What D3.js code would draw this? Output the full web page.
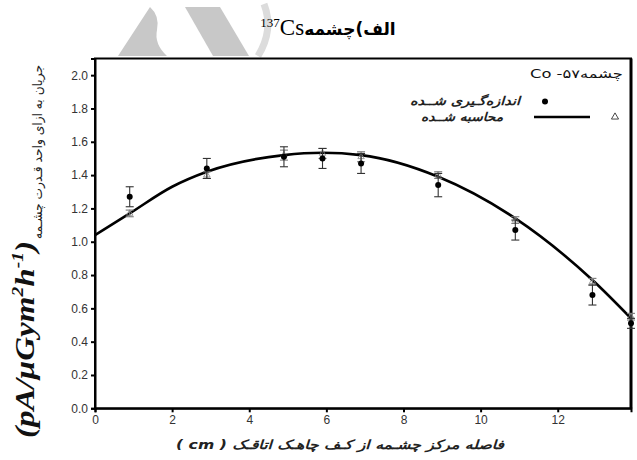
<!DOCTYPE html>
<html><head><meta charset="utf-8">
<script src="https://cdn.jsdelivr.net/npm/d3@7"></script>
<style>body{margin:0;background:#fff}svg{display:block}</style>
</head><body>
<script>
// ---- data ----
const xTicks = [0, 2, 4, 6, 8, 10, 12];
const yTicks = [0, 0.2, 0.4, 0.6, 0.8, 1.0, 1.2, 1.4, 1.6, 1.8, 2.0];
const distances = [0.9, 2.9, 4.9, 5.9, 6.9, 8.9, 10.9, 12.9, 13.9];
const measured = [1.27, 1.44, 1.51, 1.50, 1.47, 1.34, 1.07, 0.68, 0.51];
const measuredErr = [0.06, 0.06, 0.06, 0.06, 0.06, 0.07, 0.06, 0.06, 0.03];
const calculated = [1.17, 1.40, 1.52, 1.53, 1.51, 1.40, 1.13, 0.76, 0.55];
const calculatedErr = [0.02, 0.02, 0.03, 0.03, 0.03, 0.02, 0.02, 0.02, 0.02];
const curveX = [0, 0.9, 2, 2.9, 4.9, 5.9, 6.9, 8.9, 10.9, 12.9, 13.9];
const curveY = [1.04, 1.17, 1.33, 1.42, 1.52, 1.534, 1.52, 1.39, 1.14, 0.77, 0.54];

const W = 637, H = 460;
const svg = d3.select("body").append("svg").attr("width", W).attr("height", H);

// watermark shapes
const wm = svg.append("g");
wm.append("path").attr("d", "M118,56 L150,7 Q160,16 157,30 Q154,44 167,56 Z").attr("fill", "#c8c8c8");
wm.append("path").attr("d", "M185,7 L220,7 L249,56 L213,56 Z").attr("fill", "#c8c8c8");
wm.append("path").attr("d", "M264,4 Q274,30 258,56").attr("fill", "none").attr("stroke", "#dcdcdc").attr("stroke-width", 7);

const x = d3.scaleLinear().domain([0, 13.9]).range([95, 631]);
const y = d3.scaleLinear().domain([0, 2.1]).range([408.3, 58.5]);

// frame
svg.append("rect").attr("x", x(0)).attr("y", y(2.1)).attr("width", x(13.9) - x(0)).attr("height", y(0) - y(2.1))
  .attr("fill", "none").attr("stroke", "#000").attr("stroke-width", 2);
svg.append("line").attr("x1", x(13.9)).attr("x2", x(13.9)).attr("y1", y(2.1)).attr("y2", y(0))
  .attr("stroke", "#000").attr("stroke-width", 3);

const xAxis = svg.append("g").attr("transform", `translate(0,${y(0)})`)
  .call(d3.axisBottom(x).tickValues(xTicks).tickSize(4).tickPadding(3).tickFormat(d3.format("d")));
const yAxis = svg.append("g").attr("transform", `translate(${x(0)},0)`)
  .call(d3.axisLeft(y).tickValues(yTicks).tickSize(4).tickPadding(3).tickFormat(d3.format(".1f")));
[xAxis, yAxis].forEach(a => {
  a.select(".domain").attr("stroke", "#000").attr("stroke-width", 2);
  a.selectAll(".tick line").attr("stroke", "#000").attr("stroke-width", 2);
  a.selectAll(".tick text").attr("font-family", "Liberation Sans, Arial, sans-serif").attr("font-size", 12).attr("fill", "#333");
});

// curve
const line = d3.line().x(d => x(d[0])).y(d => y(d[1])).curve(d3.curveMonotoneX);
svg.append("path").datum(curveX.map((v, i) => [v, curveY[i]])).attr("d", line)
  .attr("fill", "none").attr("stroke", "#000").attr("stroke-width", 2.6);

function errBars(vals, errs, color, cap) {
  const g = svg.append("g").attr("stroke", color).attr("stroke-width", 1.1);
  distances.forEach((d, i) => {
    const cx = x(d), t = y(vals[i] + errs[i]), b = y(vals[i] - errs[i]);
    g.append("line").attr("x1", cx).attr("x2", cx).attr("y1", t).attr("y2", b);
    g.append("line").attr("x1", cx - cap).attr("x2", cx + cap).attr("y1", t).attr("y2", t);
    g.append("line").attr("x1", cx - cap).attr("x2", cx + cap).attr("y1", b).attr("y2", b);
  });
}
errBars(calculated, calculatedErr, "#777", 4);
svg.append("g").selectAll("path").data(distances).join("path")
  .attr("d", d3.symbol(d3.symbolTriangle, 18))
  .attr("transform", (d, i) => `translate(${x(d)},${y(calculated[i])})`)
  .attr("fill", "none").attr("stroke", "#888").attr("stroke-width", 0.8);
errBars(measured, measuredErr, "#333", 4);
svg.append("g").selectAll("circle").data(distances).join("circle")
  .attr("cx", d => x(d)).attr("cy", (d, i) => y(measured[i])).attr("r", 3).attr("fill", "#000");

// legend
const ar = "DejaVu Sans, sans-serif";
svg.append("text").attr("x", 623).attr("y", 78).attr("text-anchor", "end")
  .attr("font-family", ar).attr("font-size", 12).attr("fill", "#111")
  .attr("textLength", 93).attr("lengthAdjust", "spacingAndGlyphs").text("Co -۵۷چشمه");
svg.append("circle").attr("cx", 545).attr("cy", 101.5).attr("r", 3).attr("fill", "#000");
svg.append("text").attr("x", 410).attr("y", 105)
  .attr("font-family", ar).attr("font-size", 12).attr("font-style", "italic").attr("font-weight", "bold").attr("fill", "#222")
  .attr("textLength", 110).attr("lengthAdjust", "spacingAndGlyphs")
  .text("اندازه‌گـیری شــده");
svg.append("line").attr("x1", 534).attr("x2", 590).attr("y1", 117).attr("y2", 117).attr("stroke", "#000").attr("stroke-width", 2.6);
svg.append("path").attr("d", d3.symbol(d3.symbolTriangle, 22)).attr("transform", "translate(615,117)")
  .attr("fill", "none").attr("stroke", "#333").attr("stroke-width", 0.9);
svg.append("text").attr("x", 421).attr("y", 121)
  .attr("font-family", ar).attr("font-size", 12).attr("font-style", "italic").attr("font-weight", "bold").attr("fill", "#222")
  .attr("textLength", 82).attr("lengthAdjust", "spacingAndGlyphs")
  .text("محاسبه شــده");

// x label (right-to-left)
svg.append("text").attr("x", 340).attr("y", 449).attr("text-anchor", "middle").attr("direction", "rtl")
  .attr("font-family", ar).attr("font-size", 12.5).attr("font-style", "italic").attr("font-weight", "bold").attr("fill", "#222")
  .attr("textLength", 328).attr("lengthAdjust", "spacingAndGlyphs")
  .text("فاصله مرکز چشـمه از کـف چاهـک اتاقـک ( cm )");

// y label
const yl = svg.append("g").attr("transform", "translate(34,438) rotate(-90)");
const lat = yl.append("text").attr("x", 0).attr("y", 0)
  .attr("font-family", "Liberation Serif, Times New Roman, serif").attr("font-size", 27)
  .attr("font-style", "italic").attr("font-weight", "bold").attr("fill", "#111")
  .attr("textLength", 197).attr("lengthAdjust", "spacingAndGlyphs");
lat.append("tspan").text("(pA/μGym");
lat.append("tspan").attr("dy", -11).attr("font-size", 16).text("2");
lat.append("tspan").attr("dy", 11).text("h");
lat.append("tspan").attr("dy", -11).attr("font-size", 16).text("-1");
lat.append("tspan").attr("dy", 11).text(")");
yl.append("text").attr("x", 199).attr("y", 8)
  .attr("font-family", ar).attr("font-size", 13).attr("fill", "#222")
  .attr("textLength", 174).attr("lengthAdjust", "spacingAndGlyphs")
  .text("جریان به ازای واحد قـدرت چشـمه");

// title
const tg = svg.append("g");
const tCs = tg.append("text").attr("y", 35).attr("font-family", "Liberation Serif, Times New Roman, serif").attr("font-size", 23).attr("fill", "#000");
tCs.append("tspan").attr("font-size", 13).attr("dy", -8).text("137");
tCs.append("tspan").attr("dy", 8).text("Cs");
const tA = tg.append("text").attr("y", 35).attr("font-family", ar).attr("font-size", 17).attr("font-weight", "bold").attr("fill", "#000").text("چشمه");
const tP = tg.append("text").attr("y", 35).attr("font-family", ar).attr("font-size", 17).attr("font-weight", "bold").attr("fill", "#000").text("\u200E(\u200E");
const tB = tg.append("text").attr("y", 35).attr("font-family", ar).attr("font-size", 17).attr("font-weight", "bold").attr("fill", "#000").text("الف");
const parts = [tCs, tA, tP, tB];
const widths = parts.map(p => p.node().getComputedTextLength());
let cx = 328 - d3.sum(widths) / 2;
parts.forEach((p, i) => { p.attr("x", cx); cx += widths[i]; });
</script>
</body></html>
